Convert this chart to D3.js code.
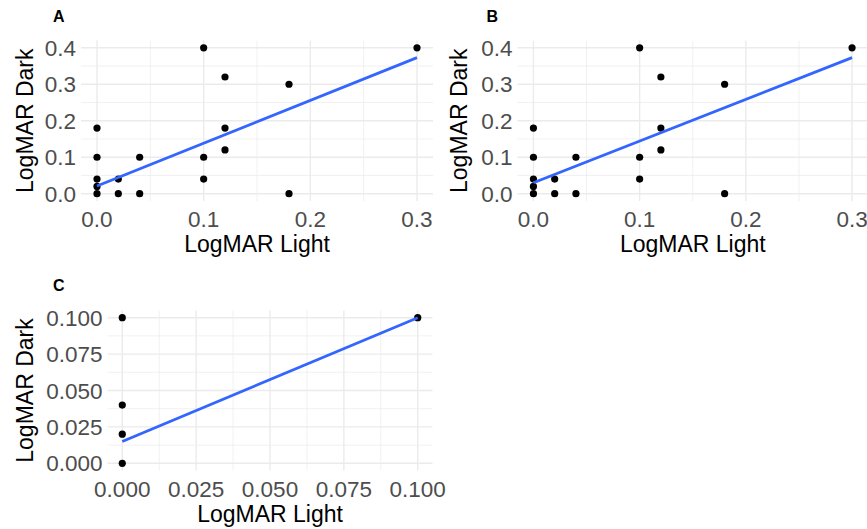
<!DOCTYPE html>
<html lang="en">
<head>
<meta charset="UTF-8">
<title>LogMAR Light vs Dark</title>
<script src="https://d3js.org/d3.v7.min.js"></script>
<style>
  html, body { margin: 0; padding: 0; background: #fff; }
  svg text { font-family: "Liberation Sans", Arial, Helvetica, sans-serif; }
</style>
</head>
<body>
<svg id="chart" width="867" height="529"></svg>
<script>
// Panel A data
const lightA = [0.3, 0.1, 0.12, 0.18, 0, 0.12, 0.12, 0, 0.04, 0.1, 0, 0.02, 0.1, 0, 0, 0.02, 0.04, 0.18];
const darkA  = [0.4, 0.4, 0.32, 0.3, 0.18, 0.18, 0.12, 0.1, 0.1, 0.1, 0.04, 0.04, 0.04, 0.02, 0, 0, 0, 0];
const fitXA = [0, 0.3];
const fitYA = [0.021, 0.373];

// Panel B data
const lightB = [0.3, 0.1, 0.12, 0.18, 0, 0.12, 0.12, 0, 0.04, 0.1, 0, 0.02, 0.1, 0, 0, 0.02, 0.04, 0.18];
const darkB  = [0.4, 0.4, 0.32, 0.3, 0.18, 0.18, 0.12, 0.1, 0.1, 0.1, 0.04, 0.04, 0.04, 0.02, 0, 0, 0, 0];
const fitXB = [0, 0.3];
const fitYB = [0.03, 0.373];

// Panel C data
const lightC = [0, 0.1, 0, 0, 0];
const darkC  = [0.1, 0.1, 0.04, 0.02, 0];
const fitXC = [0, 0.1];
const fitYC = [0.015, 0.1];

// tick labels
const ticksAB_x = [0, 0.1, 0.2, 0.3];
const ticksAB_y = [0, 0.1, 0.2, 0.3, 0.4];
const ticksC = [0, 0.025, 0.05, 0.075, 0.1];

const svg = d3.select("#chart");

function panel(o) {
  const g = svg.append("g");
  const x = d3.scaleLinear().domain(o.xDom).range([o.left, o.right]);
  const y = d3.scaleLinear().domain(o.yDom).range([o.bottom, o.top]);

  // minor grid (midpoints between major ticks)
  const minor = t => t.slice(1).map((v, i) => (v + t[i]) / 2);
  g.selectAll(".mx").data(minor(o.xTicks)).join("line")
    .attr("x1", d => x(d)).attr("x2", d => x(d))
    .attr("y1", o.top).attr("y2", o.bottom)
    .attr("stroke", "#EBEBEB").attr("stroke-width", 0.7);
  g.selectAll(".my").data(minor(o.yTicks)).join("line")
    .attr("y1", d => y(d)).attr("y2", d => y(d))
    .attr("x1", o.left).attr("x2", o.right)
    .attr("stroke", "#EBEBEB").attr("stroke-width", 0.7);
  // major grid
  g.selectAll(".gx").data(o.xTicks).join("line")
    .attr("x1", d => x(d)).attr("x2", d => x(d))
    .attr("y1", o.top).attr("y2", o.bottom)
    .attr("stroke", "#EBEBEB").attr("stroke-width", 1.4);
  g.selectAll(".gy").data(o.yTicks).join("line")
    .attr("y1", d => y(d)).attr("y2", d => y(d))
    .attr("x1", o.left).attr("x2", o.right)
    .attr("stroke", "#EBEBEB").attr("stroke-width", 1.4);

  // tick labels
  g.selectAll(".tx").data(o.xTicks).join("text")
    .attr("x", d => x(d)).attr("y", o.bottom + 26)
    .attr("text-anchor", "middle").attr("font-size", 22.5).attr("fill", "#4D4D4D")
    .text(o.fmt);
  g.selectAll(".ty").data(o.yTicks).join("text")
    .attr("x", o.left - 5).attr("y", d => y(d)).attr("dy", "0.36em")
    .attr("text-anchor", "end").attr("font-size", 22.5).attr("fill", "#4D4D4D")
    .text(o.fmt);

  // axis titles
  g.append("text").attr("x", (o.left + o.right) / 2).attr("y", o.bottom + 51)
    .attr("text-anchor", "middle").attr("font-size", 23).attr("fill", "#000")
    .text("LogMAR Light");
  g.append("text")
    .attr("transform", `translate(${o.cellX + 33},${(o.top + o.bottom) / 2}) rotate(-90)`)
    .attr("text-anchor", "middle").attr("font-size", 23).attr("fill", "#000")
    .text("LogMAR Dark");

  // tag
  g.append("text").attr("x", o.cellX + 53).attr("y", o.top - 19)
    .attr("font-size", 16).attr("font-weight", "bold").attr("fill", "#000")
    .text(o.tag);

  // points
  g.selectAll(".pt").data(o.xs.map((v, i) => [v, o.ys[i]])).join("circle")
    .attr("cx", d => x(d[0])).attr("cy", d => y(d[1])).attr("r", 3.6)
    .attr("fill", "#000");

  // fitted line
  g.append("path")
    .datum(o.fx.map((v, i) => [v, o.fy[i]]))
    .attr("d", d3.line().x(d => x(d[0])).y(d => y(d[1])))
    .attr("fill", "none").attr("stroke", "#3366FF").attr("stroke-width", 2.8);
}

const fmt1 = d => d.toFixed(1);
const fmt3 = d => d.toFixed(3);

panel({ tag: "A", cellX: 0, left: 81, right: 433, top: 40.5, bottom: 201,
  xDom: [-0.015, 0.315], yDom: [-0.02, 0.42], xTicks: ticksAB_x, yTicks: ticksAB_y,
  fmt: fmt1, xs: lightA, ys: darkA, fx: fitXA, fy: fitYA });

panel({ tag: "B", cellX: 433.5, left: 517.5, right: 868, top: 40.5, bottom: 201,
  xDom: [-0.015, 0.315], yDom: [-0.02, 0.42], xTicks: ticksAB_x, yTicks: ticksAB_y,
  fmt: fmt1, xs: lightB, ys: darkB, fx: fitXB, fy: fitYB });

panel({ tag: "C", cellX: 0, left: 107.5, right: 432.5, top: 310.4, bottom: 470.6,
  xDom: [-0.005, 0.105], yDom: [-0.005, 0.105], xTicks: ticksC, yTicks: ticksC,
  fmt: fmt3, xs: lightC, ys: darkC, fx: fitXC, fy: fitYC });
</script>
</body>
</html>
